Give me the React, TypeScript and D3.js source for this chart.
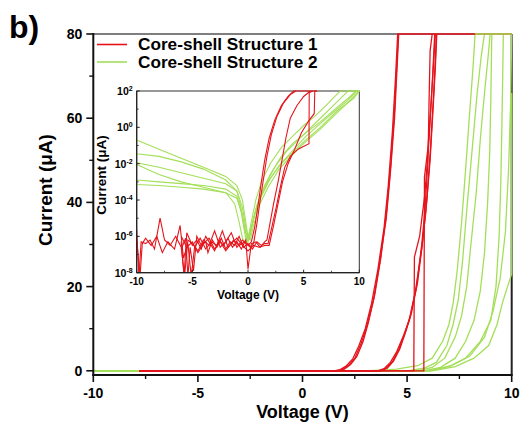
import React from "react";
import * as d3 from "d3";

type P = [number, number];

// ---------- Main plot data: [Voltage (V), Current (uA)] ----------
const mainXTicks = [-10, -5, 0, 5, 10];
const mainXMinor = [-7.5, -2.5, 2.5, 7.5];
const mainYTicks = [0, 20, 40, 60, 80];
const mainYMinor = [10, 30, 50, 70];

const redMainA1: P[] = [[-7.8, 0], [1.5, 0], [1.8, 0.3], [2.1, 1.2], [2.4, 2.8], [2.7, 6], [3.0, 10], [3.3, 16], [3.6, 24], [3.9, 34], [4.1, 44], [4.3, 57], [4.45, 70], [4.55, 80], [10, 80]];
const redMainA2: P[] = [[-7.8, 0], [1.6, 0], [1.9, 0.3], [2.2, 1.3], [2.5, 3], [2.8, 6.5], [3.1, 11], [3.4, 17], [3.7, 26], [4.0, 36], [4.2, 47], [4.4, 60], [4.52, 72], [4.6, 80]];
const redMainA3: P[] = [[-7.8, 0], [1.7, 0], [2.0, 0.4], [2.3, 1.5], [2.6, 3.4], [2.9, 7], [3.15, 11.5], [3.45, 18], [3.75, 27], [4.02, 38], [4.22, 49], [4.4, 62], [4.52, 74], [4.58, 80]];
const redMainB1: P[] = [[-7.8, 0], [3.6, 0], [3.9, 0.5], [4.2, 2], [4.5, 4.5], [4.8, 8], [5.1, 12], [5.4, 19], [5.7, 29], [5.9, 38], [6.1, 50], [6.25, 63], [6.35, 72], [6.42, 80]];
const redMainB2: P[] = [[-7.8, 0], [3.7, 0], [4.0, 0.6], [4.3, 2.2], [4.6, 5], [4.9, 9], [5.15, 13], [5.45, 20], [5.7, 30], [5.85, 38], [6.0, 50], [6.05, 64], [6.1, 76], [6.2, 80]];
const redMainB3: P[] = [[-7.8, 0], [3.75, 0], [4.05, 0.6], [4.35, 2.3], [4.65, 5.2], [4.95, 9.5], [5.2, 13.5], [5.5, 21], [5.75, 31], [5.95, 41], [6.12, 53], [6.27, 66], [6.36, 75], [6.4, 80]];
const redMainC1: P[] = [[-7.8, 0], [5.32, 0], [5.35, 27], [5.6, 32], [5.85, 42], [6.05, 55], [6.2, 68], [6.32, 80]];
const redMainC2: P[] = [[-7.8, 0], [5.8, 0], [5.83, 46], [6.0, 53], [6.15, 64], [6.28, 74], [6.35, 80]];

const greenMain1: P[] = [[-10, 0], [3.0, 0], [4.5, 0.4], [5.5, 1.2], [6.2, 3], [6.7, 7], [7.0, 11], [7.2, 16], [7.4, 24], [7.6, 35], [7.8, 48], [8.0, 62], [8.15, 72], [8.25, 80], [10, 80]];
const greenMain2: P[] = [[-10, 0], [5.0, 0], [5.8, 0.6], [6.4, 2], [6.9, 6], [7.2, 11], [7.45, 17], [7.65, 26], [7.85, 38], [8.1, 52], [8.35, 66], [8.55, 75], [8.7, 80]];
const greenMain3: P[] = [[-10, 0], [5.5, 0], [6.2, 0.8], [6.8, 3], [7.3, 8], [7.6, 13], [7.85, 20], [8.05, 30], [8.3, 42], [8.5, 55], [8.7, 66], [8.88, 75], [8.97, 80]];
const greenMain4: P[] = [[-10, 0], [5.8, 0], [6.6, 0.8], [7.3, 3], [7.8, 7], [8.2, 12], [8.5, 19], [8.7, 28], [8.85, 40], [8.95, 52], [9.0, 64], [9.03, 74], [9.05, 80]];
const greenMain5: P[] = [[-10, 0], [6.0, 0], [7.0, 1], [7.8, 3], [8.5, 7], [9.0, 12], [9.25, 20], [9.4, 32], [9.48, 45], [9.53, 58], [9.57, 70], [9.6, 80]];
const greenMain6: P[] = [[-10, 0], [6.2, 0], [7.3, 1], [8.2, 3], [8.9, 6], [9.3, 11], [9.55, 16], [9.8, 20], [10, 23], [10, 66]];
const greenMain7: P[] = [[-10, 0], [6.1, 0], [7.1, 1.2], [8.0, 3.5], [8.7, 8], [9.1, 14], [9.45, 22], [9.7, 33], [9.85, 48], [9.95, 64], [10, 80]];

// ---------- Inset data: [Voltage (V), log10 Current (uA)] ----------
const insetXTicks = [-10, -5, 0, 5, 10];
const insetXMinor = [-7.5, -2.5, 2.5, 7.5];
const insetYExp = [-8, -6, -4, -2, 0, 2];
const insetYMinorExp = [-7, -5, -3, -1, 1];

const greenIn1: P[] = [[-10, -0.7], [-8, -1.2], [-6, -1.7], [-4, -2.2], [-2, -2.7], [-1, -3.2], [-0.5, -4.0], [-0.2, -5.2], [0, -6.1], [0.3, -5.2], [0.7, -4.0], [1.2, -3.0], [2, -2.0], [3, -1.1], [4, -0.5], [5, 0.1], [6, 0.6], [7, 1.2], [7.8, 1.7], [8.3, 2], [10, 2]];
const greenIn2: P[] = [[-10, -1.45], [-8, -1.6], [-6, -1.9], [-4, -2.3], [-2, -2.9], [-1, -3.5], [-0.5, -4.4], [-0.2, -5.5], [0.1, -6.2], [0.4, -5.3], [0.8, -4.3], [1.5, -3.2], [2.5, -2.1], [3.5, -1.3], [4.5, -0.7], [5.5, -0.1], [6.5, 0.5], [7.5, 1.1], [8.5, 1.7], [9, 2], [10, 2]];
const greenIn3: P[] = [[-10, -1.95], [-8, -2.2], [-6, -2.5], [-4, -2.8], [-2, -3.1], [-1, -3.5], [-0.6, -4.5], [-0.3, -5.6], [0, -6.3], [0.3, -5.6], [0.7, -4.5], [1.3, -3.5], [2, -2.6], [3, -1.6], [4, -0.9], [5, -0.4], [6.5, 0.3], [8, 1.1], [9, 1.6], [9.7, 2], [10, 2]];
const greenIn4: P[] = [[-10, -2.05], [-8, -2.6], [-6, -3.0], [-4, -3.3], [-2, -3.6], [-1, -3.9], [-0.5, -4.8], [-0.2, -5.8], [0.2, -6.2], [0.5, -5.4], [1, -4.3], [1.8, -3.3], [2.8, -2.3], [4, -1.5], [5, -0.9], [6.5, -0.1], [8, 0.8], [9.2, 1.5], [10, 2]];
const greenIn5: P[] = [[-10, -2.9], [-8, -3.0], [-6, -3.1], [-4, -3.2], [-2, -3.4], [-1, -3.8], [-0.6, -4.7], [-0.3, -5.8], [-0.1, -6.4], [0.2, -5.8], [0.6, -4.8], [1.2, -3.8], [2, -2.8], [3, -2.0], [4, -1.4], [5, -0.8], [6.5, 0], [8, 0.9], [9.5, 1.6], [10, 2]];
const greenIn6: P[] = [[-10, -3.15], [-8, -3.2], [-6, -3.3], [-4, -3.4], [-2, -3.6], [-1.2, -4.2], [-0.8, -5.2], [-0.5, -6.1], [-0.3, -6.3], [0.1, -5.9], [0.5, -5.0], [1, -4.0], [1.8, -3.0], [2.8, -2.1], [4, -1.3], [5.2, -0.5], [6.5, 0.2], [7.8, 0.9], [9, 1.5], [9.8, 2], [10, 2]];

const redIn1: P[] = [[-10, -5.65], [-9.8, -8.2], [-9.6, -6.3], [-9.2, -6.4], [-8.8, -6.2], [-8.4, -6.7], [-7.9, -5.0], [-7.5, -6.2], [-7.0, -6.5], [-6.5, -6.0], [-6.0, -6.6], [-5.7, -8.2], [-5.4, -6.2], [-5.0, -6.4], [-4.5, -6.8], [-4.0, -6.2], [-3.5, -6.5], [-3.0, -5.7], [-2.5, -6.6], [-2.0, -6.3], [-1.5, -5.8], [-1.0, -6.6], [-0.5, -6.2], [0, -6.5], [0.3, -6.3], [0.6, -5.5], [0.9, -4.3], [1.2, -3.0], [1.5, -1.8], [1.9, -0.6], [2.4, 0.4], [3.0, 1.2], [3.6, 1.7], [4.1, 2], [6.2, 2]];
const redIn2: P[] = [[-10, -6.2], [-9.7, -8.2], [-9.5, -6.4], [-9.2, -6.1], [-8.7, -6.5], [-8.2, -6.0], [-7.7, -6.9], [-7.2, -6.3], [-6.6, -6.7], [-6.1, -5.4], [-5.8, -7.2], [-5.4, -6.4], [-5.1, -8.2], [-4.8, -6.6], [-4.3, -6.1], [-3.8, -6.7], [-3.3, -6.3], [-2.8, -6.5], [-2.3, -5.7], [-1.8, -6.6], [-1.3, -6.2], [-0.8, -6.5], [-0.3, -6.3], [0.2, -6.6], [0.5, -6.4], [0.8, -5.3], [1.1, -4.0], [1.4, -2.8], [1.7, -1.6], [2.1, -0.4], [2.6, 0.6], [3.2, 1.35], [3.8, 1.8], [4.3, 2]];
const redIn3: P[] = [[-6, -6.3], [-5.75, -8.2], [-5.5, -5.8], [-5.0, -6.5], [-4.6, -6.2], [-4.2, -6.7], [-3.8, -6.0], [-3.4, -6.4], [-3.0, -6.8], [-2.6, -6.2], [-2.2, -6.5], [-1.8, -6.1], [-1.4, -6.6], [-1.0, -6.3], [-0.6, -6.7], [-0.2, -6.2], [0, -7.8], [0.3, -6.4], [0.7, -6.3], [1.1, -6.6], [1.5, -6.3], [1.7, -6.2], [2.0, -5.2], [2.3, -4.2], [2.7, -3.0], [3.0, -2.0], [3.4, -0.6], [3.8, 0.5], [4.4, 1.2], [5.0, 1.7], [5.6, 2]];
const redIn4: P[] = [[-6, -6.7], [-5.6, -6.1], [-5.4, -8.2], [-5.2, -6.6], [-4.9, -7.9], [-4.6, -6.0], [-4.2, -6.5], [-3.8, -6.3], [-3.6, -6.9], [-3.2, -6.2], [-2.8, -6.6], [-2.4, -6.1], [-2.0, -6.7], [-1.6, -6.3], [-1.2, -6.5], [-0.8, -6.0], [-0.4, -6.6], [0, -6.4], [0.4, -6.7], [0.8, -6.3], [1.2, -6.5], [1.5, -6.4], [1.8, -6.4], [2.1, -5.6], [2.5, -4.5], [2.9, -3.3], [3.3, -2.2], [3.8, -1.6], [4.5, -1.2], [5.48, -0.9], [5.5, 1.9], [5.8, 2]];
const redIn5: P[] = [[-6, -6.0], [-5.5, -6.6], [-5.0, -6.3], [-4.5, -6.9], [-4.0, -6.4], [-3.5, -6.1], [-3.0, -6.7], [-2.5, -6.3], [-2.0, -6.8], [-1.5, -6.4], [-1.0, -6.1], [-0.5, -6.5], [0, -6.8], [0.5, -6.5], [1.0, -6.6], [1.5, -6.5], [1.9, -6.5], [2.3, -5.4], [2.7, -4.2], [3.1, -3.0], [3.6, -2.0], [4.2, -1.2], [4.8, -0.3], [5.5, 0.4], [5.95, 0.75], [6.0, 2], [6.2, 2]];

const redMain = [redMainA1, redMainA2, redMainA3, redMainB1, redMainB2, redMainB3, redMainC1, redMainC2];
const greenMain = [greenMain1, greenMain2, greenMain3, greenMain4, greenMain5, greenMain6, greenMain7];
const redInset = [redIn1, redIn2, redIn3, redIn4, redIn5];
const greenInset = [greenIn1, greenIn2, greenIn3, greenIn4, greenIn5, greenIn6];

const legendLabels = ["Core-shell Structure 1", "Core-shell Structure 2"];

const RED = "#e5141c";
const GREEN = "#a3df58";
const FONT = "'Liberation Sans', Arial, sans-serif";

export default function App() {
  const W = 524, H = 423;
  const x = d3.scaleLinear().domain([-10, 10]).range([93.3, 511.7]);
  const y = d3.scaleLinear().domain([-1, 80]).range([375, 34]);
  const line = d3.line<P>().x(d => x(d[0])).y(d => y(d[1]));

  const xi = d3.scaleLinear().domain([-10, 10]).range([136.7, 359.3]);
  const yi = d3.scaleLog().domain([1e-8, 1e2]).range([272.7, 91]);
  const lineI = d3.line<P>().x(d => xi(d[0])).y(d => yi(Math.pow(10, Math.max(-8.3, d[1]))));

  const [x0, x1] = x.range();
  const yTop = y(80), yBot = y(-1);
  const [ix0, ix1] = xi.range();
  const iyBot = yi(1e-8), iyTop = yi(1e2);

  return (
    <svg width={W} height={H} style={{ position: "absolute", left: 0, top: 0, background: "#fff" }} fontFamily={FONT}>
      <defs>
        <clipPath id="mainClip"><rect x={x0} y={yTop - 1.5} width={x1 - x0 + 1.5} height={yBot - yTop + 1.5} /></clipPath>
        <clipPath id="insetClip"><rect x={ix0} y={iyTop - 1.2} width={ix1 - ix0 + 1.2} height={iyBot - iyTop + 1.2} /></clipPath>
      </defs>
      <rect x={0} y={0} width={W} height={H} fill="#fff" />
      <text x={9} y={38} fontSize={32} fontWeight="bold">b)</text>

      {/* main frame (top/right under the curves) */}
      <line x1={x0} x2={x1} y1={yTop} y2={yTop} stroke="#555" strokeWidth={1.5} />
      <line x1={x1} x2={x1} y1={yTop} y2={yBot} stroke="#222" strokeWidth={2} />

      {/* main curves */}
      <g clipPath="url(#mainClip)" fill="none" strokeWidth={1.3}>
        {greenMain.map((c, i) => <path key={"g" + i} d={line(c) || ""} stroke={GREEN} />)}
        {redMain.map((c, i) => <path key={"r" + i} d={line(c) || ""} stroke={RED} />)}
        <path d={line([[8.25, 80], [10, 80]]) || ""} stroke={GREEN} strokeWidth={1.6} />
      </g>

      <line x1={x0} x2={x0} y1={yTop - 1} y2={yBot + 1} stroke="#111" strokeWidth={2} />
      <line x1={x0 - 1} x2={x1 + 1} y1={yBot} y2={yBot} stroke="#111" strokeWidth={2} />

      {mainYTicks.map(t => (
        <g key={"yt" + t}>
          <line x1={x0 - 7} x2={x0} y1={y(t)} y2={y(t)} stroke="#111" strokeWidth={1.6} />
          <text x={x0 - 11} y={y(t)} dy="0.36em" textAnchor="end" fontSize={14} fontWeight="bold">{t}</text>
        </g>
      ))}
      {mainYMinor.map(t => <line key={"ym" + t} x1={x0 - 4} x2={x0} y1={y(t)} y2={y(t)} stroke="#111" strokeWidth={1.4} />)}
      {mainXTicks.map(t => (
        <g key={"xt" + t}>
          <line x1={x(t)} x2={x(t)} y1={yBot} y2={yBot + 7} stroke="#111" strokeWidth={1.6} />
          <text x={x(t)} y={398} textAnchor="middle" fontSize={14} fontWeight="bold">{t}</text>
        </g>
      ))}
      {mainXMinor.map(t => <line key={"xm" + t} x1={x(t)} x2={x(t)} y1={yBot} y2={yBot + 4} stroke="#111" strokeWidth={1.4} />)}

      <text x={x(0)} y={418} textAnchor="middle" fontSize={18} fontWeight="bold">Voltage (V)</text>
      <text transform={`translate(52,190) rotate(-90)`} textAnchor="middle" fontSize={19} fontWeight="bold">Current (μA)</text>

      {/* legend */}
      <line x1={97} x2={127} y1={44.5} y2={44.5} stroke={RED} strokeWidth={1.6} />
      <text x={138} y={49.5} fontSize={17.2} fontWeight="bold">{legendLabels[0]}</text>
      <line x1={97} x2={127} y1={62} y2={62} stroke={GREEN} strokeWidth={1.6} />
      <text x={138} y={68} fontSize={17.2} fontWeight="bold">{legendLabels[1]}</text>

      {/* inset */}
      <rect x={ix0} y={iyTop} width={ix1 - ix0} height={iyBot - iyTop} fill="#fff" stroke="#333" strokeWidth={1} />
      <g clipPath="url(#insetClip)" fill="none" strokeWidth={1.1}>
        {greenInset.map((c, i) => <path key={"gi" + i} d={lineI(c) || ""} stroke={GREEN} />)}
        {redInset.map((c, i) => <path key={"ri" + i} d={lineI(c) || ""} stroke={RED} />)}
      </g>
      <line x1={ix0} x2={ix0} y1={iyTop} y2={iyBot} stroke="#222" strokeWidth={1.2} />
      <line x1={ix0} x2={ix1} y1={iyBot} y2={iyBot} stroke="#222" strokeWidth={1.2} />
      {insetYExp.map(e => (
        <g key={"iy" + e}>
          <line x1={ix0} x2={ix0 + 3} y1={yi(Math.pow(10, e))} y2={yi(Math.pow(10, e))} stroke="#222" strokeWidth={1} />
          <text x={ix0 - 4} y={yi(Math.pow(10, e))} dy="0.38em" textAnchor="end" fontSize={10.5} fontWeight="bold">
            10<tspan dy="-4" fontSize={7}>{e}</tspan>
          </text>
        </g>
      ))}
      {insetYMinorExp.map(e => <line key={"iym" + e} x1={ix0} x2={ix0 + 2} y1={yi(Math.pow(10, e))} y2={yi(Math.pow(10, e))} stroke="#222" strokeWidth={0.8} />)}
      {insetXTicks.map(t => (
        <g key={"ix" + t}>
          <line x1={xi(t)} x2={xi(t)} y1={iyBot} y2={iyBot - 3} stroke="#222" strokeWidth={1} />
          <text x={xi(t)} y={285} textAnchor="middle" fontSize={10} fontWeight="bold">{t}</text>
        </g>
      ))}
      {insetXMinor.map(t => <line key={"ixm" + t} x1={xi(t)} x2={xi(t)} y1={iyBot} y2={iyBot - 2} stroke="#222" strokeWidth={0.8} />)}
      <text x={(ix0 + ix1) / 2} y={298.5} textAnchor="middle" fontSize={12} fontWeight="bold">Voltage (V)</text>
      <text transform={`translate(106,175) rotate(-90)`} textAnchor="middle" fontSize={13.5} fontWeight="bold">Current (μA)</text>
    </svg>
  );
}
